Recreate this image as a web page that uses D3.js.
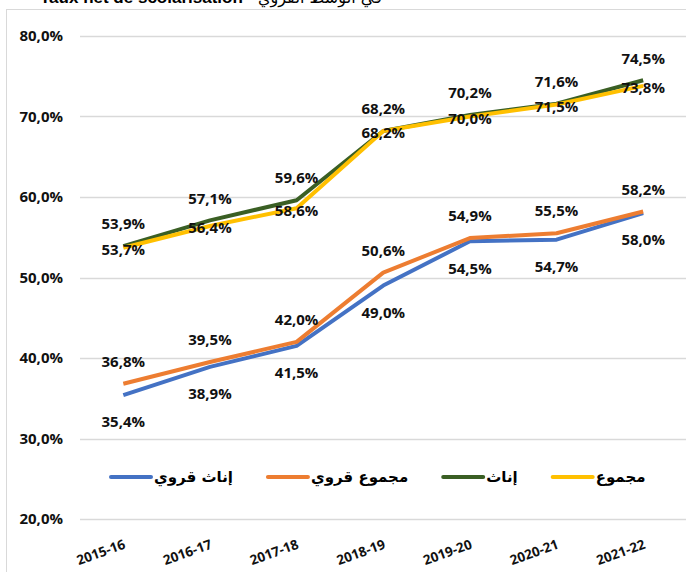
<!DOCTYPE html>
<html>
<head>
<meta charset="utf-8">
<script src="https://cdn.jsdelivr.net/npm/d3@7"></script>
<style>
  body { margin: 0; background: #fff; }
  svg { display: block; }
</style>
</head>
<body>
<div id="chart"></div>
<script>
// school years
const years = ['2015-16', '2016-17', '2017-18', '2018-19', '2019-20', '2020-21', '2021-22'];

// series values (%)
const ruralGirls = [35.4, 38.9, 41.5, 49.0, 54.5, 54.7, 58.0];
const ruralTotal = [36.8, 39.5, 42.0, 50.6, 54.9, 55.5, 58.2];
const girls = [53.9, 57.1, 59.6, 68.2, 70.2, 71.6, 74.5];
const total = [53.7, 56.4, 58.6, 68.2, 70.0, 71.5, 73.8];

const seriesNames = ['إناث قروي', 'مجموع قروي', 'إناث', 'مجموع'];
const yTicks = [20, 30, 40, 50, 60, 70, 80];

const width = 686;
const height = 572;

const series = [
  { name: seriesNames[0], values: ruralGirls, color: '#4472C4', labelDy: 27 },
  { name: seriesNames[1], values: ruralTotal, color: '#ED7D31', labelDy: -22 },
  { name: seriesNames[2], values: girls, color: '#3A5F24', labelDy: -22 },
  { name: seriesNames[3], values: total, color: '#FFC000', labelDy: 2 },
];

const fmt = (v) => d3.format('.1f')(v).replace('.', ',') + '%';
const numFont = "'Open Sans', 'Noto Sans', sans-serif";
const arFont = "'DejaVu Sans', sans-serif";

const svg = d3.select('#chart')
  .append('svg')
  .attr('width', width)
  .attr('height', height);

// chart frame (cut off at the right and bottom)
svg.append('rect')
  .attr('x', 6.5)
  .attr('y', 9.5)
  .attr('width', 720)
  .attr('height', 620)
  .attr('fill', '#fff')
  .attr('stroke', '#D9D9D9');

// title, mostly outside the picture
svg.append('text')
  .attr('x', 40)
  .attr('y', 3)
  .attr('font-family', "'Liberation Sans', sans-serif")
  .attr('font-weight', 'bold')
  .attr('font-size', 17)
  .attr('fill', '#000')
  .text('Taux net de scolarisation');

svg.append('text')
  .attr('x', 258)
  .attr('y', 3)
  .attr('font-family', arFont)
  .attr('font-size', 16)
  .attr('fill', '#000')
  .text('في الوسط القروي');

const x = d3.scaleBand()
  .domain(years)
  .range([80, 686.5]);

const y = d3.scaleLinear()
  .domain([20, 80])
  .range([519, 36]);

const cx = (d) => x(d) + x.bandwidth() / 2;

// gridlines
svg.append('g')
  .selectAll('line')
  .data(yTicks)
  .join('line')
  .attr('x1', 80)
  .attr('x2', width)
  .attr('y1', (d) => Math.round(y(d)) + 0.5)
  .attr('y2', (d) => Math.round(y(d)) + 0.5)
  .attr('stroke', '#D9D9D9')
  .attr('stroke-width', 1.3);

// y labels
svg.append('g')
  .selectAll('text')
  .data(yTicks)
  .join('text')
  .attr('x', 63)
  .attr('y', (d) => y(d))
  .attr('dy', '0.35em')
  .attr('text-anchor', 'end')
  .attr('font-family', numFont)
  .attr('font-weight', 'bold')
  .attr('font-size', 15)
  .attr('fill', '#111')
  .text((d) => fmt(d));

// x labels, slanted
svg.append('g')
  .selectAll('text')
  .data(years)
  .join('text')
  .attr('transform', (d) => `translate(${cx(d) + 3},548) rotate(-20)`)
  .attr('text-anchor', 'end')
  .attr('font-family', numFont)
  .attr('font-weight', 'bold')
  .attr('font-size', 13.5)
  .attr('fill', '#111')
  .text((d) => d);

// lines
const line = d3.line()
  .x((d, i) => cx(years[i]))
  .y((d) => y(d));

svg.append('g')
  .selectAll('path')
  .data(series)
  .join('path')
  .attr('d', (s) => line(s.values))
  .attr('fill', 'none')
  .attr('stroke', (s) => s.color)
  .attr('stroke-width', 4)
  .attr('stroke-linejoin', 'round');

// data labels
series.forEach((s) => {
  svg.append('g')
    .selectAll('text')
    .data(s.values)
    .join('text')
    .attr('x', (d, i) => cx(years[i]))
    .attr('y', (d) => y(d) + s.labelDy)
    .attr('dy', '0.35em')
    .attr('text-anchor', 'middle')
    .attr('font-family', numFont)
    .attr('font-weight', 'bold')
    .attr('font-size', 15)
    .attr('fill', '#111')
    .text((d) => fmt(d));
});

// legend
const legend = svg.append('g');
let lx = 111;
const ly = 477;
series.forEach((s) => {
  legend.append('line')
    .attr('x1', lx)
    .attr('x2', lx + 40)
    .attr('y1', ly)
    .attr('y2', ly)
    .attr('stroke', s.color)
    .attr('stroke-width', 4)
    .attr('stroke-linecap', 'round');
  const t = legend.append('text')
    .attr('x', lx + 43)
    .attr('y', ly)
    .attr('dy', '0.35em')
    .attr('font-family', arFont)
    .attr('font-weight', 'bold')
    .attr('font-size', 15)
    .attr('fill', '#000')
    .text(s.name);
  lx += 43 + t.node().getComputedTextLength() + 35;
});
</script>
</body>
</html>
